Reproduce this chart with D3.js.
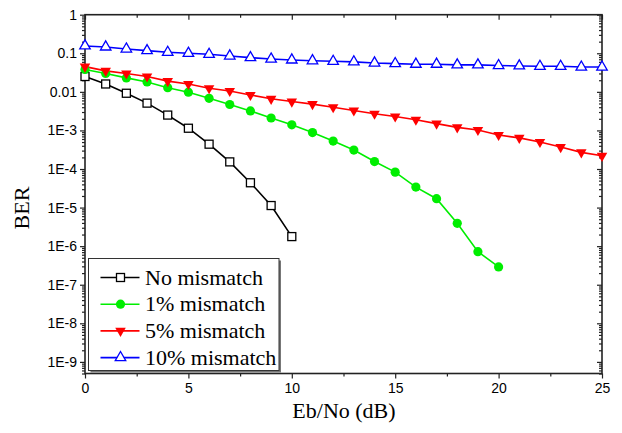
<!DOCTYPE html>
<html>
<head>
<meta charset="utf-8">
<script src="https://d3js.org/d3.v7.min.js"></script>
<style>
  body { margin: 0; background: #fff; }
  .axis path.domain { display: none; }
  .axis line { stroke: #222; stroke-width: 1.2; }
</style>
</head>
<body>
<svg id="chart" width="622" height="433"></svg>
<script>
  // Eb/No (dB)
  const snr = d3.range(0, 26);

  // BER values
  const noMismatch = [0.025, 0.016, 0.0092, 0.0051, 0.0025, 0.00114, 0.00044, 0.000153, 4.4e-5, 1.13e-5, 1.77e-6];
  const mismatch1 = [0.038, 0.030, 0.023, 0.018, 0.0128, 0.0098, 0.0068, 0.0047, 0.0032, 0.0021, 0.0014,
                     0.00088, 0.00053, 0.00031, 0.000156, 8.3e-5, 3.4e-5, 1.7e-5, 3.9e-6, 7.2e-7, 2.9e-7];
  const mismatch5 = [0.045, 0.035, 0.030, 0.025, 0.019, 0.016, 0.0124, 0.0105, 0.0083, 0.0066, 0.0056,
                     0.0048, 0.0040, 0.0033, 0.0027, 0.0023, 0.0019, 0.0015, 0.0012, 0.00103, 0.00076,
                     0.00064, 0.0005, 0.00037, 0.00027, 0.00022];
  const mismatch10 = [0.155, 0.146, 0.129, 0.117, 0.106, 0.100, 0.094, 0.085, 0.077, 0.071, 0.067,
                      0.064, 0.062, 0.060, 0.056, 0.054, 0.052, 0.052, 0.050, 0.050, 0.048,
                      0.047, 0.046, 0.046, 0.044, 0.044];

  const seriesNames = ["No mismatch", "1% mismatch", "5% mismatch", "10% mismatch"];

  const xTicks = [0, 5, 10, 15, 20, 25];
  const xMinorTicks = [2.5, 7.5, 12.5, 17.5, 22.5];
  const yTicks = [1, 0.1, 0.01, 1e-3, 1e-4, 1e-5, 1e-6, 1e-7, 1e-8, 1e-9];
  const yTickLabels = ["1", "0.1", "0.01", "1E-3", "1E-4", "1E-5", "1E-6", "1E-7", "1E-8", "1E-9"];

  const sansFont = "'Liberation Sans', Arial, sans-serif";
  const serifFont = "'Liberation Serif', 'Times New Roman', 'DejaVu Serif', serif";

  const svg = d3.select("#chart");
  const plot = {left: 85, right: 602, top: 14.7, bottom: 373.5};

  const x = d3.scaleLinear().domain([0, 25]).range([plot.left, plot.right]);
  const y = d3.scaleLog().domain([5e-10, 1]).range([plot.bottom, plot.top]);

  // minor log ticks 2..9 in every decade
  let yMinor = [];
  for (let e = -10; e < 0; e++) {
    for (let m = 2; m <= 9; m++) {
      let v = m * Math.pow(10, e);
      if (v >= 5e-10 && v < 1) yMinor.push(v);
    }
  }

  function styleTicks(g) {
    g.selectAll("text")
     .style("font-family", sansFont)
     .style("font-size", "14px")
     .attr("fill", "#000");
  }

  // axes
  svg.append("g").attr("class", "axis")
     .attr("transform", "translate(" + plot.left + ",0)")
     .call(d3.axisLeft(y).tickValues(yTicks).tickSize(5).tickPadding(3)
       .tickFormat((d, i) => yTickLabels[i]))
     .call(styleTicks);
  svg.append("g").attr("class", "axis")
     .attr("transform", "translate(" + plot.left + ",0)")
     .call(d3.axisLeft(y).tickValues(yMinor).tickSize(3).tickFormat(""));
  svg.append("g").attr("class", "axis")
     .attr("transform", "translate(" + plot.right + ",0)")
     .call(d3.axisLeft(y).tickValues(yTicks).tickSize(5).tickFormat(""));
  svg.append("g").attr("class", "axis")
     .attr("transform", "translate(" + plot.right + ",0)")
     .call(d3.axisLeft(y).tickValues(yMinor).tickSize(3).tickFormat(""));

  svg.append("g").attr("class", "axis")
     .attr("transform", "translate(0," + plot.bottom + ")")
     .call(d3.axisBottom(x).tickValues(xTicks).tickSize(5).tickPadding(5))
     .call(styleTicks);
  svg.append("g").attr("class", "axis")
     .attr("transform", "translate(0," + plot.bottom + ")")
     .call(d3.axisBottom(x).tickValues(xMinorTicks).tickSize(3).tickFormat(""));
  svg.append("g").attr("class", "axis")
     .attr("transform", "translate(0," + plot.top + ")")
     .call(d3.axisBottom(x).tickValues(xTicks).tickSize(5).tickFormat(""));
  svg.append("g").attr("class", "axis")
     .attr("transform", "translate(0," + plot.top + ")")
     .call(d3.axisBottom(x).tickValues(xMinorTicks).tickSize(3).tickFormat(""));

  svg.append("rect")
     .attr("x", plot.left).attr("y", plot.top)
     .attr("width", plot.right - plot.left).attr("height", plot.bottom - plot.top)
     .attr("fill", "none").attr("stroke", "#222").attr("stroke-width", 1.6);

  // markers
  const tri = d3.symbol().type(d3.symbolTriangle).size(48);
  function drawMarker(g, kind, color) {
    if (kind === "square") {
      g.append("rect").attr("x", -4).attr("y", -4).attr("width", 8).attr("height", 8)
       .attr("fill", "#fff").attr("stroke", color).attr("stroke-width", 1.3);
    } else if (kind === "circle") {
      g.append("circle").attr("r", 4.6).attr("fill", color);
    } else if (kind === "down") {
      g.append("path").attr("d", tri()).attr("transform", "rotate(180)").attr("fill", color);
    } else {
      g.append("path").attr("d", tri()).attr("fill", "#fff").attr("stroke", color).attr("stroke-width", 1.3);
    }
  }

  const series = [
    {name: seriesNames[0], values: noMismatch, color: "#000000", marker: "square"},
    {name: seriesNames[1], values: mismatch1, color: "#00ee00", marker: "circle"},
    {name: seriesNames[2], values: mismatch5, color: "#ff0000", marker: "down"},
    {name: seriesNames[3], values: mismatch10, color: "#0000ff", marker: "up"}
  ];

  const line = d3.line().x((d, i) => x(snr[i])).y(d => y(d));
  const chartArea = svg.append("g");

  series.forEach(s => {
    chartArea.append("path").datum(s.values)
      .attr("d", line).attr("fill", "none")
      .attr("stroke", s.color).attr("stroke-width", 1.6);
  });
  series.forEach(s => {
    s.values.forEach((v, i) => {
      let g = chartArea.append("g").attr("transform", "translate(" + x(snr[i]) + "," + y(v) + ")");
      drawMarker(g, s.marker, s.color);
    });
  });

  // legend
  const legend = {x: 88.5, y: 258.5, w: 190.5, h: 112};
  svg.append("rect").attr("x", legend.x + 2).attr("y", legend.y + 2)
     .attr("width", legend.w).attr("height", legend.h).attr("fill", "#777");
  svg.append("rect").attr("x", legend.x).attr("y", legend.y)
     .attr("width", legend.w).attr("height", legend.h)
     .attr("fill", "#fff").attr("stroke", "#333").attr("stroke-width", 1);

  series.forEach((s, i) => {
    let ry = 277.5 + i * 26.7;
    svg.append("line").attr("x1", 100.5).attr("x2", 139.5).attr("y1", ry).attr("y2", ry)
       .attr("stroke", s.color).attr("stroke-width", 1.6);
    let g = svg.append("g").attr("transform", "translate(120.5," + ry + ")");
    drawMarker(g, s.marker, s.color);
    svg.append("text")
       .style("font-family", serifFont).style("font-size", "22px")
       .attr("x", 145).attr("y", ry + 7).text(s.name);
  });

  // axis titles
  svg.append("text")
     .style("font-family", serifFont).style("font-size", "22px")
     .attr("text-anchor", "middle")
     .attr("transform", "translate(29,208) rotate(-90)")
     .text("BER");
  svg.append("text")
     .style("font-family", serifFont).style("font-size", "22px")
     .attr("text-anchor", "middle")
     .attr("x", 344).attr("y", 418)
     .text("Eb/No (dB)");
</script>
</body>
</html>
